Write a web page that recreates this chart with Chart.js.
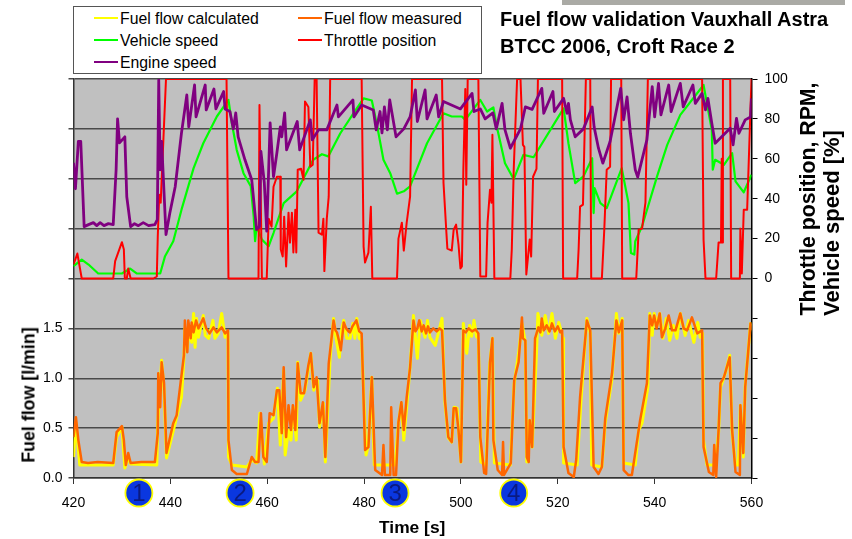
<!DOCTYPE html>
<html><head><meta charset="utf-8">
<script src="https://cdn.jsdelivr.net/npm/chart.js@4"></script>
<style>
html,body{margin:0;padding:0;background:#fff;width:852px;height:539px;overflow:hidden;font-family:"Liberation Sans",Arial,sans-serif;color:#000}
#wrap{position:relative;width:852px;height:539px}
canvas{position:absolute;left:0;top:0}
.t{position:absolute;white-space:nowrap}
#bar{position:absolute;left:562px;top:0;width:283px;height:5px;background:#aaaaa5}
#legend{position:absolute;left:73px;top:6px;width:407px;height:66px;border:1px solid #555;background:#fff}
.lg{position:absolute;font-size:15.8px;line-height:18px;white-space:nowrap}
.sw{position:absolute;height:2px;width:24px}
.title{font-weight:bold;font-size:20px;left:500px}
.ax{font-weight:bold}
.rot{transform:translate(-50%,-50%) rotate(-90deg);transform-origin:center}
</style></head><body><div id="wrap">
<canvas id="c" width="852" height="539"></canvas>
<div id="bar"></div><div id="legend"></div>
<div class="t title" style="top:8px">Fuel flow validation Vauxhall Astra</div>
<div class="t title" style="top:35px">BTCC 2006, Croft Race 2</div>
<div class="t ax" style="left:379px;top:517px;font-size:17.4px">Time [s]</div>
<div class="t ax rot" style="left:29px;top:395px;font-size:17.8px">Fuel flow [l/min]</div>
<div class="t ax rot" style="left:808px;top:199px;font-size:21.3px">Throttle position, RPM,</div>
<div class="t ax rot" style="left:832px;top:223px;font-size:22px">Vehicle speed [%]</div>
</div>
<script>
const seriesNames = ["Fuel flow calculated","Fuel flow measured","Vehicle speed","Throttle position","Engine speed"];
const seriesColors = ["#ffff00","#ff6600","#00ff00","#ff0000","#800080"];
const timeTicks = [420,440,460,480,500,520,540,560];
const markerTimes = [433.5,454.4,486.4,510.9];
const markerLabels = ["1","2","3","4"];

const throttlePosition = [[420,7],[420.8,12.5],[421.7,0],[428.2,0],[428.6,8.7],[430,18.2],[430.4,14.5],[430.6,0],[431,0],[431.3,5],[431.8,0],[436.5,0],[437.2,1],[437.4,21],[437.7,42],[438,38],[439.1,100],[451.6,100],[452,0],[458.2,0],[458.4,87],[458.9,0],[459.9,0],[460.3,30],[460.9,26],[461.3,46],[462,51],[462.7,51],[462.8,14.5],[463.2,11],[463.5,31],[463.9,6],[464.4,33],[464.7,18],[465.1,33],[465.4,13],[465.8,34.5],[466,13],[466.3,54.5],[467,55],[467.5,49.5],[467.8,88.7],[468.5,86],[468.9,56],[469.4,57],[469.8,100],[470.2,100],[470.6,23],[471.3,22],[471.6,30],[471.8,3.7],[472.3,30],[472.7,41],[473,100],[479.5,100],[479.9,16],[480.2,8],[480.9,13],[481.4,36],[481.7,0],[486.8,0],[487.1,20],[487.8,28],[488.2,14],[488.8,28],[489.5,41],[489.9,100],[496.1,100],[496.4,48],[497,23],[497.2,15],[498.1,14],[498.5,24.5],[499,27],[499.5,17],[499.9,5],[500.2,6],[500.5,54.5],[500.9,95],[501.1,47],[501.4,100],[503.6,100],[504,1],[505.2,1],[505.5,28],[506,44.5],[506.3,38],[506.5,72],[506.9,0],[510.2,0],[510.5,14.5],[510.9,54.5],[511.6,100],[512.3,100],[512.8,67],[513.1,66],[513.5,2],[514.2,19.5],[514.5,11],[514.9,51],[515.6,55],[515.9,100],[520.9,100],[521.1,0],[524,0],[524.3,14.5],[524.6,36],[525.2,37],[525.8,100],[526.7,100],[526.9,0],[529.1,0],[529.6,24.5],[530.1,54.5],[530.8,56],[531,100],[533.1,100],[533.3,0],[536.2,0],[536.7,24.5],[537.4,25],[538.1,38],[538.6,100],[549.8,100],[550.1,19.5],[550.5,0],[552.7,0],[553.2,18],[553.7,18],[553.85,60],[553.95,18],[554.1,100],[555.6,100],[555.8,0],[557.6,0],[557.7,25],[558,2.5],[558.4,34.5],[559.1,34.5],[560,100]];

const engineSpeed = [[420,58],[420.4,45],[421,68.7],[421.5,68.7],[422.2,26],[423.1,27],[424.1,28],[424.8,26.5],[425.5,28],[426.3,26.5],[427.2,27.5],[428.2,27],[428.8,54.5],[429.1,80],[429.5,68],[430.6,71],[431,41],[431.8,26],[432.6,27.5],[433.4,26.5],[434.4,28],[435.5,26.5],[436.8,27],[437.3,29.5],[437.6,99.5],[437.9,54.5],[438.2,68.7],[439.1,22],[439.9,33],[441,46],[442.3,73],[443.4,92],[443.8,76],[445,97],[445.3,81],[447.2,97],[447.4,84.5],[449,95],[449.4,85],[451,93.7],[451.3,85],[452.3,83.7],[453,75],[453.5,83],[454,71],[455.4,59.5],[456.8,49.5],[457.8,24.5],[458.4,26],[458.7,63.7],[459.4,48],[459.9,23.7],[460.6,78],[461.3,51],[462,63],[462.7,76],[463,71],[463.6,83],[464,64.5],[466.2,78.7],[466.7,64.5],[468.9,79.5],[469.3,69.5],[470.6,74.5],[472.3,74.5],[474.4,87],[474.7,81],[477.7,89.5],[477.9,81],[479.5,87],[481.9,84.5],[482.5,74.5],[483.3,83.7],[483.7,73],[484.2,86],[484.8,74.5],[485.3,89.5],[486.6,71],[488.2,75],[489.5,81],[490.6,94.5],[491,78.7],[492.6,94.5],[493,80],[494.9,92],[495.4,81],[496.4,88.7],[499.9,85],[502.3,92.8],[502.7,83.7],[504,85],[505,80],[506.6,83],[507.3,75],[508.5,87.8],[509.1,74.5],[510.2,65.3],[512.3,75],[513.3,86],[514.7,84.8],[516.7,95.3],[517.1,82.8],[519,93.7],[519.3,83.7],[521.2,90.3],[521.9,82.8],[522.2,87.8],[522.6,79.5],[523.6,71],[525.3,75],[527.1,86],[527.5,76],[528.4,65.3],[529.3,57.8],[530.8,68.7],[533,95.3],[533.6,79.5],[534.3,91],[535,72.8],[536,54.5],[536.5,50.8],[538.4,69.5],[539.5,96.2],[540,81],[540.8,97.8],[541.3,82],[542.9,97],[543.4,83.7],[545.3,97.8],[545.9,86],[547.9,97],[548.4,87.8],[549.8,92.8],[550.5,84.5],[551,90.3],[551.8,77.8],[552.5,67.8],[555.6,75.3],[556.2,67],[556.9,80.3],[557.4,72.8],[558.7,79.5],[559.8,81],[560,90.3]];

const vehicleSpeed = [[420,6.2],[421.7,9.5],[423.1,7],[425.1,2.5],[430,2.5],[431.7,5],[433.1,2.5],[437.9,2.5],[438.9,11.2],[440.6,18.7],[442.3,34.5],[444.8,55.3],[446.8,67.8],[449.6,81.2],[452,89.5],[452.7,77.8],[453.7,64.5],[455.1,52.8],[456.6,46.2],[457.2,31.2],[457.5,18.7],[457.8,26.2],[458.9,19.5],[460.3,16.2],[461.3,22.8],[463.4,37.8],[466.1,43.7],[469.5,59.5],[471.3,62.3],[472.6,61.2],[475.1,72.8],[477.8,82.8],[479.9,90.3],[481.6,89.2],[482.6,77.8],[484,59.5],[485.4,52.8],[486.8,42.5],[488.2,43.7],[489.5,46.2],[493,67.8],[496.4,82.8],[498.1,81.2],[500.2,81.2],[500.9,79.5],[504,89.5],[505.4,83.7],[506.7,85.8],[507.4,76.2],[509.1,57.8],[510.9,49.8],[512.9,62],[515,60.8],[521.2,85.3],[522.2,67.8],[523.6,47.8],[525.3,51.2],[527.1,60.3],[527.4,32.8],[527.6,45.3],[528.8,37.8],[530.1,35.3],[533.2,55.3],[534.6,37.8],[535.1,12.8],[535.8,12],[536,18.7],[537.4,26.2],[540.5,51.2],[542.6,67],[545.3,82],[550.1,97],[551.8,74.5],[552,54.5],[552.5,59.5],[554.3,57],[556,62.8],[556.7,48.7],[558.4,43.2],[560,52]];

const fuelMeasured = [[420,.41],[420.5,.61],[421,.38],[421.7,.16],[423,.15],[425,.16],[428.2,.15],[428.9,.46],[430,.52],[430.4,.38],[430.8,.13],[431.3,.25],[431.8,.15],[434,.16],[436.8,.16],[437.4,.45],[437.5,1.05],[437.9,.71],[438.2,1.16],[438.7,.95],[439.2,.25],[440.6,.55],[441.3,.63],[442.1,.95],[442.8,1.23],[443,1.58],[443.5,1.26],[443.7,1.58],[444.2,1.4],[444.4,1.56],[444.8,1.46],[445.3,1.58],[445.8,1.5],[446.8,1.6],[447.4,1.5],[448.1,1.45],[448.9,1.51],[449.6,1.46],[450.6,1.51],[451.3,1.45],[451.9,1.48],[452,.38],[452.7,.08],[453.7,.04],[455.8,.04],[456.8,.21],[457.5,.16],[458.2,.16],[458.7,.65],[459.2,.21],[459.9,.16],[460.5,.65],[461.3,.63],[462,.88],[462.5,.88],[463,.45],[463.4,1.11],[463.9,.41],[464.4,.73],[464.9,.48],[465.3,.73],[465.8,.48],[466.3,1.15],[466.9,.85],[467.6,.85],[468.5,1.13],[469,1.25],[469.6,.91],[470.2,1.01],[470.8,.55],[471.5,.76],[472,.21],[472.7,1.15],[473.7,1.58],[474.1,1.48],[474.4,1.46],[474.8,1.38],[475.2,1.28],[475.8,1.56],[476.3,1.5],[476.8,1.47],[477.1,1.46],[477.6,1.52],[478.4,1.58],[479,1.47],[479.5,1.45],[480.2,.28],[480.9,.31],[481.6,1.01],[482.3,.08],[483.7,.03],[484,.33],[484.3,.03],[485.4,.03],[485.6,.71],[486.1,.03],[486.6,.03],[487.1,.56],[487.7,.76],[488.2,.48],[488.8,.81],[489.5,1.11],[490.2,1.58],[490.6,1.47],[491,1.5],[491.4,1.58],[491.9,1.47],[492.3,1.53],[492.8,1.45],[493.2,1.52],[493.6,1.46],[494.3,1.5],[495,1.47],[495.6,1.5],[496.1,1.48],[496.7,.78],[497.4,.41],[498.1,.36],[498.5,.7],[499,.7],[499.5,.48],[500,.16],[500.5,1.48],[501,1.46],[501.6,1.5],[502.3,1.47],[503,1.49],[503.6,1.45],[504,.41],[504.8,.05],[505.2,.04],[506,1.16],[506.5,1.4],[506.7,.38],[507.6,.08],[508.5,.03],[508.7,.36],[508.9,.03],[510.3,.15],[511,.98],[511.9,1.16],[512.6,1.61],[512.8,1.4],[513.3,1.38],[513.6,.21],[514,.16],[514.2,.58],[514.7,.31],[515.3,1.4],[516,1.51],[516.4,1.46],[516.7,1.6],[517.1,1.48],[517.7,1.53],[518.3,1.47],[518.8,1.55],[519.4,1.47],[520,1.52],[520.5,1.46],[520.9,1.48],[521.2,.31],[522.2,.05],[523.3,.01],[523.8,.18],[524.6,.81],[526,1.58],[526.7,1.48],[527.4,.11],[528.4,.04],[529.1,.11],[529.8,.6],[531.2,1.05],[532.1,1.58],[532.6,1.46],[533.3,1.58],[533.6,.08],[534.6,.03],[535.3,.03],[536.7,.48],[537,.58],[538.4,.95],[539,1.63],[539.5,1.53],[539.9,1.63],[540.4,1.5],[541.05,1.65],[541.5,1.41],[542.2,1.5],[542.9,1.63],[543.6,1.48],[544.3,1.48],[545.3,1.65],[546,1.5],[546.7,1.48],[547.7,1.61],[548.8,1.45],[549.8,1.48],[550.1,.31],[551.2,.06],[552.1,.03],[552.3,.33],[552.7,.01],[553.2,.48],[553.6,.95],[554.3,1.01],[555.5,1.21],[556,.48],[556.7,.06],[557.6,.03],[557.7,.73],[558.3,.25],[558.7,.91],[559.8,1.55],[560,1.48]];

const fuelCalculated = [[420,.21],[420.5,.55],[421.3,.13],[428.2,.13],[428.9,.41],[430,.51],[430.6,.1],[431.3,.21],[431.8,.14],[437.2,.13],[437.4,.55],[438.2,1.18],[438.7,.88],[439.2,.2],[441,.55],[442.3,.81],[442.8,1.2],[443,1.5],[443.5,1.3],[443.9,1.5],[444.4,1.36],[444.8,1.65],[445.1,1.31],[445.4,1.6],[445.8,1.41],[446.8,1.63],[447.2,1.43],[447.9,1.4],[448.8,1.58],[449.2,1.4],[449.9,1.45],[450.6,1.65],[451.3,1.41],[451.9,1.46],[452,.21],[452.7,.13],[455.8,.11],[456.8,.18],[457.8,.15],[458.5,.65],[459.4,.14],[460.3,.55],[461.3,.6],[462.1,.9],[462.7,.33],[463.4,1.08],[463.7,.23],[464.4,.48],[464.9,.38],[465.4,.71],[466,.38],[466.3,1.16],[466.9,.78],[467.8,.88],[469,1.25],[469.6,.88],[470.4,.98],[470.8,.51],[471.6,.75],[472,.16],[473,1.21],[473.7,1.6],[474.2,1.4],[474.9,1.21],[475.4,1.5],[475.8,1.58],[476.4,1.4],[477.1,1.4],[477.7,1.55],[478.1,1.4],[478.5,1.6],[479,1.4],[479.5,1.38],[480.4,.23],[480.9,.33],[481.6,1.01],[482.1,.13],[486.4,.13],[487.1,.55],[487.7,.75],[488.2,.38],[489.5,1.11],[490.2,1.63],[491,1.2],[491.6,1.58],[492.6,1.41],[493.1,1.58],[493.6,1.41],[494.7,1.33],[496.1,1.6],[496.7,.75],[497.4,.4],[498.1,.36],[498.6,.71],[499.2,.7],[500,.16],[500.5,1.55],[501.2,1.25],[501.8,1.53],[502.2,1.42],[502.7,1.58],[503.2,1.42],[503.6,1.4],[504.1,.16],[505.2,.13],[505.9,1.11],[506.5,1.4],[506.9,.15],[510.2,.13],[511,.95],[511.9,1.25],[512.6,1.55],[513.3,1.36],[513.6,.16],[514.2,.58],[514.7,.31],[515.6,1.25],[515.9,1.65],[516.7,1.43],[517.4,1.63],[518.1,1.45],[518.8,1.65],[519.5,1.4],[520.2,1.56],[521.1,1.4],[521.2,.15],[524,.13],[524.8,.78],[526,1.6],[526.7,1.45],[527,.13],[529.1,.11],[529.8,.55],[531.2,1],[532.1,1.65],[532.6,1.45],[533.3,1.6],[533.6,.15],[536,.13],[536.7,.48],[537.4,.55],[538.6,.91],[539,1.65],[539.5,1.43],[539.9,1.65],[540.5,1.53],[541.05,1.65],[541.7,1.4],[542.4,1.6],[543.1,1.38],[543.9,1.53],[544.6,1.4],[545.3,1.65],[546.3,1.43],[547,1.58],[548.1,1.36],[548.9,1.56],[549.4,1.41],[549.9,1.45],[550.1,.38],[550.8,.13],[552.5,.13],[553.2,.45],[553.6,.91],[554.6,1.05],[555.5,1.23],[556,.45],[556.7,.13],[557.3,.13],[557.7,.73],[558.3,.21],[558.7,.93],[559.8,1.55],[560,1.55]];

const toXY = pairs => pairs.map(p => ({x:p[0], y:p[1]}));
function ds(i, pairs, axis, width){
  return {label:seriesNames[i], data:toXY(pairs), yAxisID:axis, borderColor:seriesColors[i], backgroundColor:seriesColors[i],
          borderWidth:width, pointRadius:0, tension:0, fill:false, order:5-i, borderJoinStyle:'round'};
}
const axisColor = '#333';
const gridColor = '#4a4a4a';
const plotBack = {
  id:'plotBack',
  beforeDraw(ch){ const a=ch.chartArea; ch.ctx.save(); ch.ctx.fillStyle='#c0c0c0'; ch.ctx.fillRect(a.left,a.top,a.width,a.height); ch.ctx.restore(); },
  afterDraw(ch){
    const c=ch.ctx, xs=ch.scales.x, y=ch.scales.y.bottom+15;
    markerTimes.forEach((t,i)=>{
      const x=xs.getPixelForValue(t);
      c.save(); c.beginPath(); c.arc(x,y,13.5,0,Math.PI*2); c.fillStyle='#0a37e0'; c.fill();
      c.lineWidth=1.8; c.strokeStyle='#ffff00'; c.stroke();
      c.fillStyle='#0a1a80'; c.font='24px "Liberation Sans"'; c.textAlign='center'; c.textBaseline='middle';
      c.fillText(markerLabels[i],x,y+1); c.restore();
    });
  }
};
new Chart(document.getElementById('c'),{
  type:'line',
  data:{datasets:[ds(0,fuelCalculated,'y',3),ds(1,fuelMeasured,'y',2.5),ds(2,vehicleSpeed,'y1',2.2),ds(3,throttlePosition,'y1',2),ds(4,engineSpeed,'y1',2.8)]},
  plugins:[plotBack],
  options:{responsive:false,animation:false,
    layout:{padding:{top:79,left:0,right:0,bottom:0}},
    plugins:{legend:{display:false},tooltip:{enabled:false},title:{display:false}},
    scales:{
      x:{type:'linear',min:420,max:560,afterBuildTicks(s){s.ticks=timeTicks.map(v=>({value:v}));},
        afterFit(s){s.height=61;},
        grid:{drawOnChartArea:false,color:axisColor,tickLength:6,lineWidth:1},border:{color:axisColor,width:1.5},
        ticks:{color:'#000',font:{family:'"Liberation Sans"',size:14},padding:11,maxRotation:0,autoSkip:false}},
      y:{position:'left',min:0,max:4,afterFit(s){s.width=73.5;},
        grid:{color:gridColor,lineWidth:1.5,tickLength:5},border:{color:axisColor,width:1.5},
        ticks:{stepSize:.5,color:'#000',font:{family:'"Liberation Sans"',size:14},padding:6,autoSkip:false,callback:v=>v<=1.5?v.toFixed(1):''}},
      y1:{position:'right',min:-100,max:100,afterFit(s){s.width=100.5;},
        grid:{drawOnChartArea:false,color:'#000',tickLength:6,lineWidth:1},border:{color:'#000',width:1.5},
        ticks:{stepSize:20,color:'#000',font:{family:'"Liberation Sans"',size:14},padding:7,autoSkip:false,callback:v=>v>=0?String(v):''}}
    }}
});
const legendBox=document.getElementById('legend');
const legendPos=[[20,13],[224,13],[20,35],[224,35],[20,57]];
seriesNames.forEach((n,i)=>{
  const [x,y]=legendPos[i];
  const s=document.createElement('div'); s.className='sw'; s.style.cssText=`left:${x}px;top:${y-3}px;background:${seriesColors[i]}`;
  const l=document.createElement('div'); l.className='lg'; l.textContent=n; l.style.left=(x+26)+'px'; l.style.top=(y-10)+'px';
  legendBox.append(s,l);
});
</script></body></html>
